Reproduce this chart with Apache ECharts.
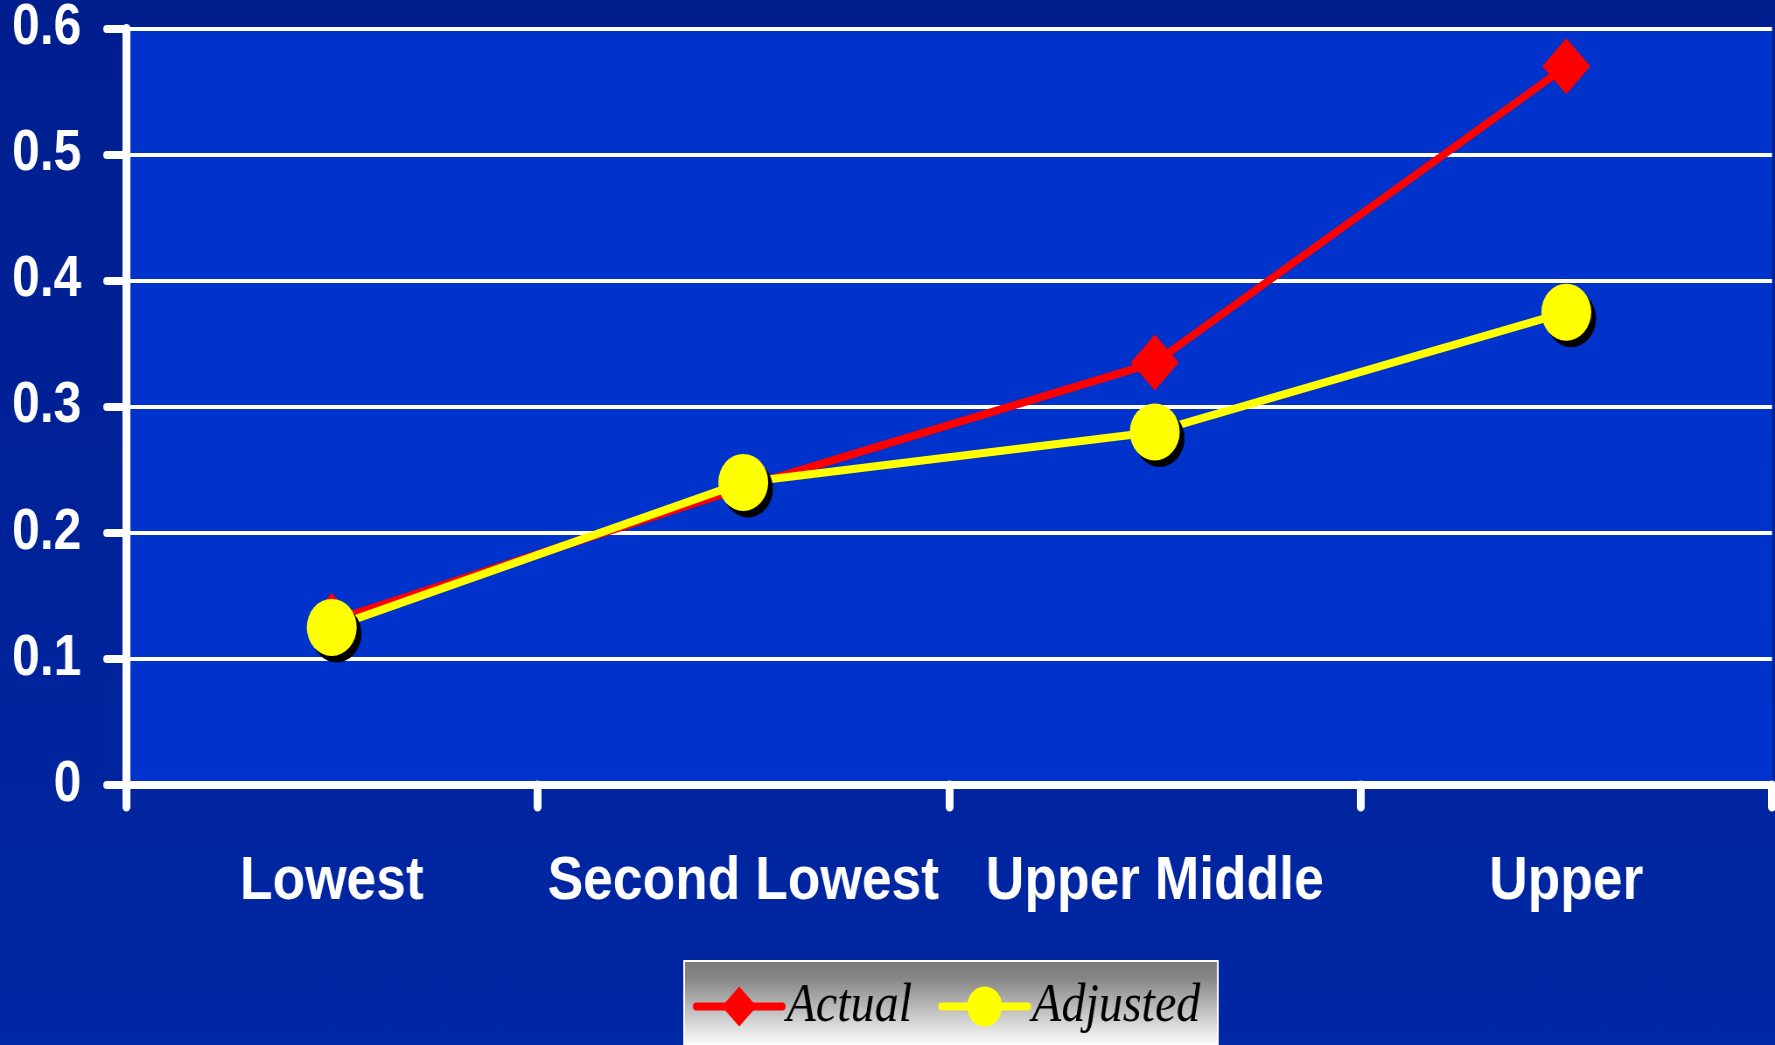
<!DOCTYPE html>
<html>
<head>
<meta charset="utf-8">
<title>Actual vs Adjusted</title>
<script src="https://cdn.jsdelivr.net/npm/echarts@6/dist/echarts.min.js"></script>
<style>
  html, body { margin: 0; padding: 0; overflow: hidden; width: 1775px; height: 1045px; background: #0023a0; }
  /* chart is laid out wide and narrowed horizontally, giving the condensed lettering and tall markers */
  #chart { width: 2029px; height: 1045px; transform: scaleX(0.874815); transform-origin: 0 0; }
</style>
</head>
<body>
<div id="chart"></div>
<script>
// Categories along the x axis
const categories = ['Lowest', 'Second Lowest', 'Upper Middle', 'Upper'];
// Series values
const actualValues = [0.13, 0.236, 0.335, 0.57];
const adjustedValues = [0.125, 0.24, 0.28, 0.375];
// Value axis ticks
const yTickLabels = ['0', '0.1', '0.2', '0.3', '0.4', '0.5', '0.6'];
const yMin = 0, yMax = 0.6, yStep = 0.1;

const chart = echarts.init(document.getElementById('chart'), null, { renderer: 'canvas' });

const white = '#ffffff';
const sans = '"Liberation Sans", Arial, Helvetica, sans-serif';

chart.setOption({
  animation: false,
  backgroundColor: new echarts.graphic.LinearGradient(0, 0, 0, 1, [
    { offset: 0, color: '#001e8e' },
    { offset: 1, color: '#0027a4' }
  ]),
  grid: {
    left: 144, right: 3.4, top: 28, bottom: 260,
    show: true, backgroundColor: '#0033cc', borderWidth: 0
  },
  legend: {
    data: ['Actual', 'Adjusted'],
    left: 782, top: 961,
    orient: 'horizontal',
    itemWidth: 98, itemHeight: 50, itemGap: 30,
    padding: [18, 20, 40, 10],
    borderColor: white, borderWidth: 2,
    backgroundColor: new echarts.graphic.LinearGradient(0, 0, 0, 1, [
      { offset: 0, color: '#7a7a7a' },
      { offset: 0.15, color: '#858585' },
      { offset: 0.75, color: '#ffffff' },
      { offset: 1, color: '#ffffff' }
    ]),
    lineStyle: { width: 8, cap: 'round' },
    selectedMode: false,
    textStyle: { color: '#000', fontSize: 55, fontStyle: 'italic', fontFamily: '"Liberation Serif", "Times New Roman", serif' }
  },
  xAxis: {
    type: 'category',
    data: categories,
    boundaryGap: true,
    axisLine: { lineStyle: { color: white, width: 8 } },
    axisTick: { show: true, interval: 0, length: 22, lineStyle: { color: white, width: 9, cap: 'round' } },
    axisLabel: { interval: 0, color: white, fontSize: 61, fontWeight: 'bold', fontFamily: sans, margin: 67 },
    splitLine: { show: false }
  },
  yAxis: {
    type: 'value',
    min: yMin, max: yMax, interval: yStep,
    axisLine: { show: true, lineStyle: { color: white, width: 9 } },
    axisTick: { show: true, length: 22, lineStyle: { color: white, width: 8, cap: 'round' } },
    axisLabel: {
      color: white, fontSize: 57, fontWeight: 'bold', fontFamily: sans, margin: 51,
      formatter: function (v) { return yTickLabels[Math.round((v - yMin) / yStep)]; }
    },
    splitLine: { show: true, lineStyle: { color: white, width: 4 } }
  },
  series: [
    {
      name: 'Actual',
      type: 'line',
      data: actualValues,
      symbol: 'diamond',
      symbolSize: [55, 56],
      itemStyle: { color: '#ff0000' },
      lineStyle: { color: '#ff0000', width: 8 },
      z: 2
    },
    {
      name: 'Adjusted',
      type: 'line',
      data: adjustedValues,
      symbol: 'circle',
      symbolSize: 57,
      itemStyle: {
        color: '#ffff00',
        shadowColor: '#000000', shadowBlur: 0, shadowOffsetX: 5.5, shadowOffsetY: 6.5
      },
      lineStyle: { color: '#ffff00', width: 8 },
      z: 3
    }
  ]
});
</script>
</body>
</html>
